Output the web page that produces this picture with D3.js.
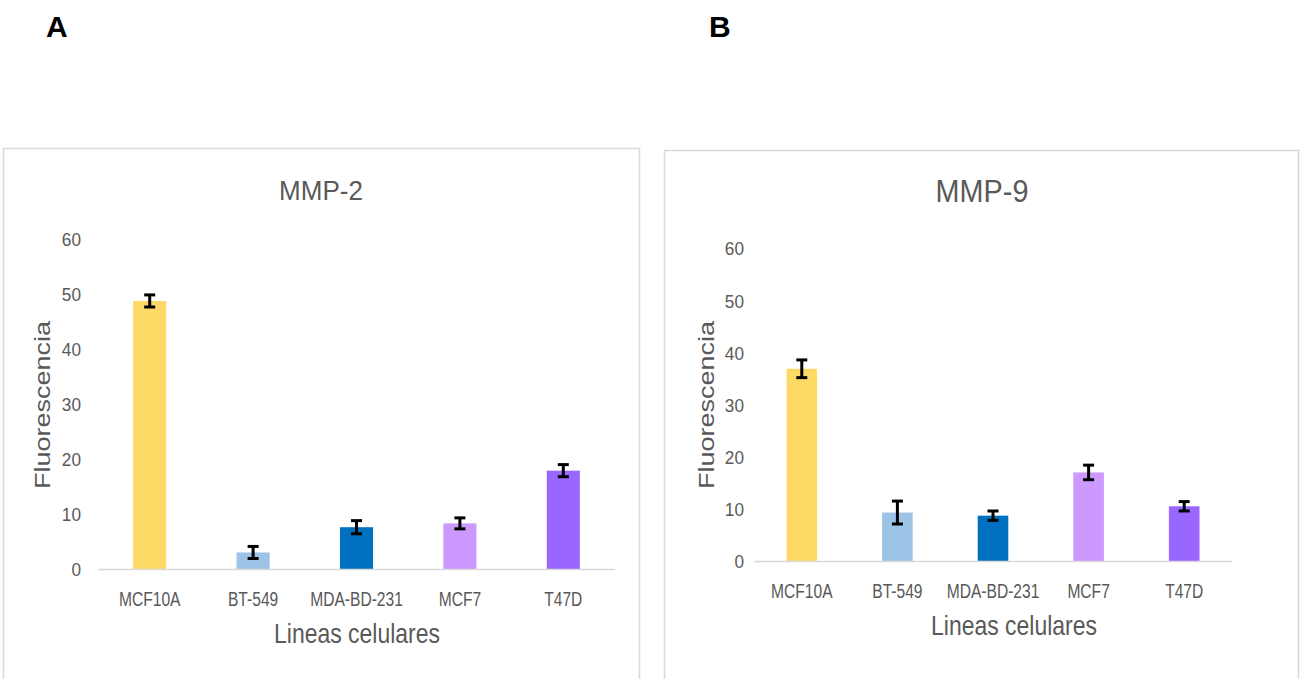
<!DOCTYPE html>
<html>
<head>
<meta charset="utf-8">
<script src="https://cdn.jsdelivr.net/npm/d3@7"></script>
<style>
  html, body { margin: 0; padding: 0; background: #fff; }
  svg text { font-family: "Liberation Sans", Arial, sans-serif; }
</style>
</head>
<body>
<div id="chart-area"></div>
<script>
// values
const categories = ["MCF10A", "BT-549", "MDA-BD-231", "MCF7", "T47D"];
const mmp2Values = [48.9, 3.1, 7.7, 8.4, 18.0];
const mmp2Errors = [1.1, 1.1, 1.2, 1.0, 1.1];
const mmp9Values = [37.0, 9.4, 8.8, 17.1, 10.6];
const mmp9Errors = [1.7, 2.2, 0.9, 1.4, 0.9];
const yTicks = [0, 10, 20, 30, 40, 50, 60];

const barColors = ["#FFD966", "#9DC3E6", "#0070C0", "#CC99FF", "#9966FF"];
const TEXT = "#595959";

const WIDTH = 1301, HEIGHT = 679;

const svg = d3.select("#chart-area").append("svg")
  .attr("width", WIDTH)
  .attr("height", HEIGHT);

const panels = [
  { label: "A", labelX: 46, title: "MMP-2", titleX: 321, titleY: 200, titleSize: 28, titleSx: 0.93,
    values: mmp2Values, errors: mmp2Errors,
    box: { x: 3.5, y: 148.5, w: 636, h: 560 },
    plot: { left: 98, right: 615, top: 240, bottom: 569.5 },
    yLabelRight: 81, xLabelY: 606, xTitleX: 357, xTitleY: 643, yTitleX: 42, yTitleY: 405 },
  { label: "B", labelX: 709, title: "MMP-9", titleX: 982, titleY: 201.5, titleSize: 32, titleSx: 0.9,
    values: mmp9Values, errors: mmp9Errors,
    box: { x: 664.5, y: 150.5, w: 634, h: 560 },
    plot: { left: 754, right: 1232, top: 249, bottom: 561.5 },
    yLabelRight: 744, xLabelY: 598, xTitleX: 1014, xTitleY: 635, yTitleX: 706, yTitleY: 405 }
];

function drawBarPlot(p) {
  const g = svg.append("g");

  // chart frame
  g.append("rect")
    .attr("x", p.box.x).attr("y", p.box.y)
    .attr("width", p.box.w).attr("height", p.box.h)
    .attr("fill", "#fff")
    .attr("stroke", "#d9d9d9")
    .attr("stroke-width", 1.5);

  // panel letter
  svg.append("text")
    .attr("x", p.labelX).attr("y", 37)
    .attr("font-size", 30)
    .attr("font-weight", "bold")
    .attr("fill", "#000")
    .text(p.label);

  const x = d3.scaleBand()
    .domain(categories)
    .range([p.plot.left, p.plot.right])
    .padding(0);

  const y = d3.scaleLinear()
    .domain([0, 60])
    .range([p.plot.bottom, p.plot.top]);

  const barW = x.bandwidth() * 0.32;

  // y axis labels only
  const yAxis = g.append("g")
    .attr("transform", `translate(${p.yLabelRight}, 0)`)
    .call(d3.axisLeft(y).tickValues(yTicks).tickSize(0).tickPadding(0));
  yAxis.select(".domain").remove();
  yAxis.selectAll("text")
    .attr("x", 0)
    .attr("fill", TEXT)
    .attr("font-size", 18.5)
    .attr("font-family", "Liberation Sans, Arial, sans-serif")
    .attr("transform", "scale(0.93,1)");

  // bars
  g.selectAll("rect.bar")
    .data(p.values)
    .enter().append("rect")
    .attr("class", "bar")
    .attr("x", (d, i) => x(categories[i]) + (x.bandwidth() - barW) / 2)
    .attr("y", d => y(d))
    .attr("width", barW)
    .attr("height", d => y(0) - y(d))
    .attr("fill", (d, i) => barColors[i]);

  // baseline
  g.append("line")
    .attr("x1", p.plot.left).attr("x2", p.plot.right)
    .attr("y1", y(0)).attr("y2", y(0))
    .attr("stroke", "#d9d9d9")
    .attr("stroke-width", 1.5);

  // error bars
  const err = g.selectAll("g.err")
    .data(p.values)
    .enter().append("g")
    .attr("class", "err")
    .attr("transform", (d, i) => `translate(${x(categories[i]) + x.bandwidth() / 2}, 0)`);
  err.append("line")
    .attr("y1", (d, i) => y(d - p.errors[i]))
    .attr("y2", (d, i) => y(d + p.errors[i]))
    .attr("stroke", "#000").attr("stroke-width", 3);
  err.append("line")
    .attr("x1", -5.5).attr("x2", 5.5)
    .attr("y1", (d, i) => y(d + p.errors[i]))
    .attr("y2", (d, i) => y(d + p.errors[i]))
    .attr("stroke", "#000").attr("stroke-width", 3);
  err.append("line")
    .attr("x1", -5.5).attr("x2", 5.5)
    .attr("y1", (d, i) => y(d - p.errors[i]))
    .attr("y2", (d, i) => y(d - p.errors[i]))
    .attr("stroke", "#000").attr("stroke-width", 3);

  // category labels
  const xAxis = g.append("g")
    .attr("transform", `translate(0, ${p.xLabelY})`)
    .call(d3.axisBottom(x).tickSize(0).tickPadding(0));
  xAxis.select(".domain").remove();
  xAxis.selectAll("text")
    .attr("y", 0).attr("dy", 0)
    .attr("fill", TEXT)
    .attr("font-size", 19.5)
    .attr("font-family", "Liberation Sans, Arial, sans-serif")
    .attr("transform", "scale(0.8,1)");

  // title
  g.append("text")
    .attr("transform", `translate(${p.titleX}, ${p.titleY}) scale(${p.titleSx},1)`)
    .attr("text-anchor", "middle")
    .attr("font-size", p.titleSize)
    .attr("fill", TEXT)
    .text(p.title);

  // axis titles
  g.append("text")
    .attr("transform", `translate(${p.xTitleX}, ${p.xTitleY}) scale(0.82,1)`)
    .attr("text-anchor", "middle")
    .attr("font-size", 28)
    .attr("fill", TEXT)
    .text("Lineas celulares");

  g.append("text")
    .attr("transform", `translate(${p.yTitleX}, ${p.yTitleY}) scale(0.82,1) rotate(-90)`)
    .attr("text-anchor", "middle")
    .attr("dominant-baseline", "central")
    .attr("font-size", 27)
    .attr("fill", TEXT)
    .text("Fluorescencia");
}

panels.forEach(drawBarPlot);
</script>
</body>
</html>
